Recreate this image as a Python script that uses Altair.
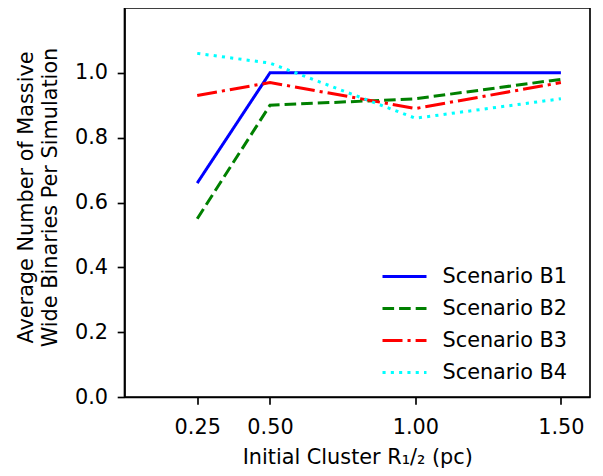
import altair as alt
import pandas as pd

radius = [0.25, 0.5, 1.0, 1.5]
scenarios = ["Scenario B1", "Scenario B2", "Scenario B3", "Scenario B4"]
b1 = [0.66, 1.00, 1.00, 1.00]
b2 = [0.55, 0.90, 0.92, 0.98]
b3 = [0.93, 0.97, 0.89, 0.97]
b4 = [1.06, 1.03, 0.86, 0.92]
x_ticks = [0.25, 0.5, 1.0, 1.5]
y_ticks = [0.0, 0.2, 0.4, 0.6, 0.8, 1.0]

colors = ["#0000ff", "#008000", "#ff0000", "#00ffff"]
dashes = [[1, 0], [11.6, 5], [20, 5, 3.1, 5], [3.1, 5.2]]

rows = []
for name, vals in zip(scenarios, [b1, b2, b3, b4]):
    for r, v in zip(radius, vals):
        rows.append({"r": r, "v": v, "s": name})
df = pd.DataFrame(rows)

FS = 20.8
H = 389

chart = (
    alt.Chart(df)
    .mark_line(strokeWidth=3, clip=True)
    .encode(
        x=alt.X(
            "r:Q",
            scale=alt.Scale(domain=[0, 1.6], nice=False, zero=False),
            axis=alt.Axis(values=x_ticks, format=".2f", labelPadding=13,
                          title="Initial Cluster R₁/₂ (pc)",
                          titleY=66, titleBaseline="alphabetic"),
        ),
        y=alt.Y(
            "v:Q",
            scale=alt.Scale(domain=[0, 1.2], nice=False),
            axis=alt.Axis(values=y_ticks, format=".1f", labelPadding=9.7,
                          title=["Average Number of Massive", "Wide Binaries Per Simulation"],
                          titleX=-92, titleY=189, titleAngle=270,
                          titleBaseline="alphabetic", titleAlign="center",
                          titleLineHeight=24),
        ),
        color=alt.Color(
            "s:N",
            scale=alt.Scale(domain=scenarios, range=colors),
            legend=alt.Legend(
                title=None, orient="none", legendX=267.5, legendY=256,
                symbolType="M-2,0H2", symbolSize=484, symbolStrokeWidth=3,
                symbolFillColor="transparent",
                labelFontSize=FS, labelOffset=25.5, rowPadding=9,
                labelColor="black", padding=0,
            ),
        ),
        strokeDash=alt.StrokeDash(
            "s:N",
            scale=alt.Scale(domain=scenarios, range=dashes),
            legend=alt.Legend(title=None),
        ),
        detail="s:N",
    )
    .properties(
        width=465.5,
        height=H,
        padding={"left": 116.5, "top": 0, "right": 5, "bottom": 71},
        autosize=alt.AutoSizeParams(type="none"),
    )
    .configure(font="DejaVu Sans")
    .configure_view(stroke="black", strokeWidth=1.67)
    .configure_axis(
        grid=False,
        labelFontSize=FS,
        titleFontSize=FS,
        titleFontWeight="normal",
        labelColor="black",
        titleColor="black",
        tickColor="black",
        tickWidth=1.67,
        tickSize=7.3,
        domainColor="black",
        domainWidth=1.67,
    )
)

chart.save("out.html", embed_options={"renderer": "svg", "actions": False})
